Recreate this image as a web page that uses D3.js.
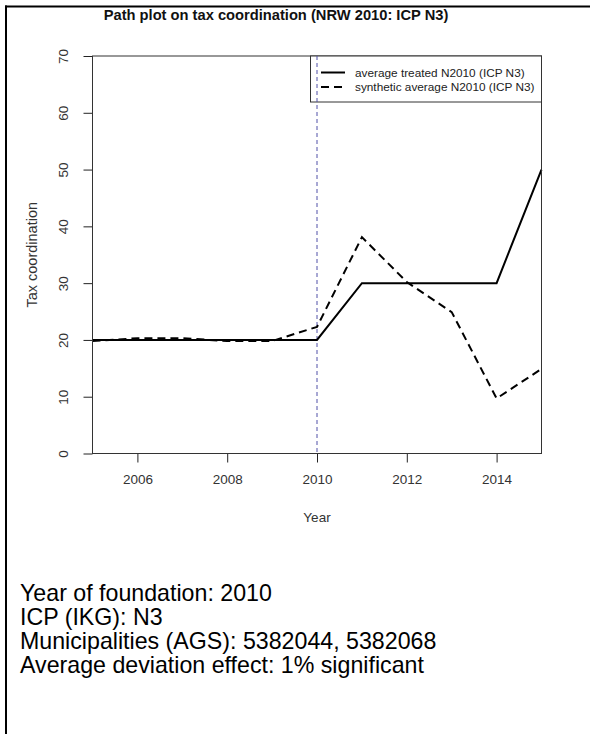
<!DOCTYPE html>
<html>
<head>
<meta charset="utf-8">
<script src="https://cdn.jsdelivr.net/npm/d3@7"></script>
<style>
  body { margin: 0; background: #fff; }
  svg text { font-family: Arial, "Liberation Sans", sans-serif; }
</style>
</head>
<body>
<div id="chart"></div>
<script>
// data
const years = [2005, 2006, 2007, 2008, 2009, 2010, 2011, 2012, 2013, 2014, 2015];
const treated = [20, 20, 20, 20, 20, 20, 30, 30, 30, 30, 50];
const synthetic = [19.8, 20.3, 20.3, 19.8, 19.8, 22.3, 38.1, 30.2, 24.9, 9.7, 14.9];
const xTicks = [2006, 2008, 2010, 2012, 2014];
const yTicks = [0, 10, 20, 30, 40, 50, 60, 70];
const foundationYear = 2010;
const legendLabels = ["average treated N2010 (ICP N3)", "synthetic average N2010 (ICP N3)"];
const infoLines = [
    "Year of foundation: 2010",
    "ICP (IKG): N3",
    "Municipalities (AGS): 5382044, 5382068",
    "Average deviation effect: 1% significant"
];

const width = 590, height = 734;
const plot = {left: 92.5, right: 541.5, top: 56, bottom: 453.5};

const svg = d3.select("#chart").append("svg")
    .attr("width", width)
    .attr("height", height);

// outer frame (top and left edges)
svg.append("line")
    .attr("x1", 5).attr("x2", width)
    .attr("y1", 6.5).attr("y2", 6.5)
    .attr("stroke", "#000").attr("stroke-width", 2);
svg.append("line")
    .attr("x1", 6).attr("x2", 6)
    .attr("y1", 5.5).attr("y2", height)
    .attr("stroke", "#000").attr("stroke-width", 2);

let x = d3.scaleLinear().domain([2005, 2015]).range([plot.left, plot.right]);
let y = d3.scaleLinear().domain([0, 70]).range([plot.bottom, plot.top]);

// title
svg.append("text")
    .attr("x", 276)
    .attr("y", 19.5)
    .attr("text-anchor", "middle")
    .style("font-size", "14.7px")
    .style("font-weight", "bold")
    .style("fill", "#111")
    .text("Path plot on tax coordination (NRW 2010: ICP N3)");

// x axis
let xAxis = svg.append("g")
    .attr("transform", `translate(0, ${plot.bottom})`)
    .call(d3.axisBottom(x).tickValues(xTicks).tickFormat(d3.format("d")).tickSize(9).tickPadding(12));
xAxis.select(".domain").remove();
xAxis.selectAll("line").attr("stroke", "#222");
xAxis.selectAll("text")
    .style("font-size", "13.5px")
    .style("fill", "#333")
    .attr("font-family", null);

// y axis, labels rotated like base R
let yAxis = svg.append("g")
    .attr("transform", `translate(${plot.left}, 0)`)
    .call(d3.axisLeft(y).tickValues(yTicks).tickSize(9));
yAxis.select(".domain").remove();
yAxis.selectAll("line").attr("stroke", "#222");
yAxis.selectAll("text")
    .attr("x", null).attr("dy", null)
    .attr("transform", "translate(-29, 0) rotate(-90)")
    .attr("text-anchor", "middle")
    .attr("dy", "0.35em")
    .attr("font-family", null)
    .style("font-size", "13.5px")
    .style("fill", "#333");

// axis titles
svg.append("text")
    .attr("x", (plot.left + plot.right) / 2)
    .attr("y", 522)
    .attr("text-anchor", "middle")
    .style("font-size", "13.5px")
    .style("fill", "#333")
    .text("Year");
svg.append("text")
    .attr("transform", `translate(37, ${(plot.top + plot.bottom) / 2}) rotate(-90)`)
    .attr("text-anchor", "middle")
    .style("font-size", "14.5px")
    .style("fill", "#333")
    .text("Tax coordination");

// foundation year marker
svg.append("line")
    .attr("x1", x(foundationYear)).attr("x2", x(foundationYear))
    .attr("y1", plot.top).attr("y2", plot.bottom)
    .attr("stroke", "#5050a8")
    .attr("stroke-width", 1)
    .attr("stroke-dasharray", "4,3");

// series
let line = d3.line()
    .x((d, i) => x(years[i]))
    .y(d => y(d));

svg.append("path")
    .datum(synthetic)
    .attr("d", line)
    .attr("fill", "none")
    .attr("stroke", "#000")
    .attr("stroke-width", 2)
    .attr("stroke-dasharray", "8,5");

svg.append("path")
    .datum(treated)
    .attr("d", line)
    .attr("fill", "none")
    .attr("stroke", "#000")
    .attr("stroke-width", 2);

// plot box
svg.append("rect")
    .attr("x", plot.left).attr("y", plot.top)
    .attr("width", plot.right - plot.left)
    .attr("height", plot.bottom - plot.top)
    .attr("fill", "none")
    .attr("stroke", "#333")
    .attr("stroke-width", 1);

// legend
let legend = svg.append("g");
legend.append("rect")
    .attr("x", 310.5).attr("y", plot.top)
    .attr("width", plot.right - 310.5)
    .attr("height", 46)
    .attr("fill", "#fff")
    .attr("stroke", "#333");

legend.selectAll("line.key")
    .data(legendLabels)
    .join("line")
    .attr("class", "key")
    .attr("x1", 321).attr("x2", 345)
    .attr("y1", (d, i) => 72.5 + i * 14.5)
    .attr("y2", (d, i) => 72.5 + i * 14.5)
    .attr("stroke", "#000")
    .attr("stroke-width", 2)
    .attr("stroke-dasharray", (d, i) => i === 0 ? null : "8,5");

legend.selectAll("text.key")
    .data(legendLabels)
    .join("text")
    .attr("class", "key")
    .attr("x", 355)
    .attr("y", (d, i) => 72.5 + i * 14.5)
    .attr("dy", "0.35em")
    .style("font-size", "11.8px")
    .style("fill", "#222")
    .text(d => d);

// the marker line shows through the legend in the reference
svg.append("line")
    .attr("x1", x(foundationYear)).attr("x2", x(foundationYear))
    .attr("y1", plot.top).attr("y2", plot.top + 46)
    .attr("stroke", "#5050a8")
    .attr("stroke-width", 1)
    .attr("stroke-dasharray", "4,3");

// info text below the chart
svg.selectAll("text.info")
    .data(infoLines)
    .join("text")
    .attr("class", "info")
    .attr("x", 20)
    .attr("y", (d, i) => 601 + i * 24)
    .style("font-size", "23.2px")
    .style("fill", "#000")
    .text(d => d);
</script>
</body>
</html>
